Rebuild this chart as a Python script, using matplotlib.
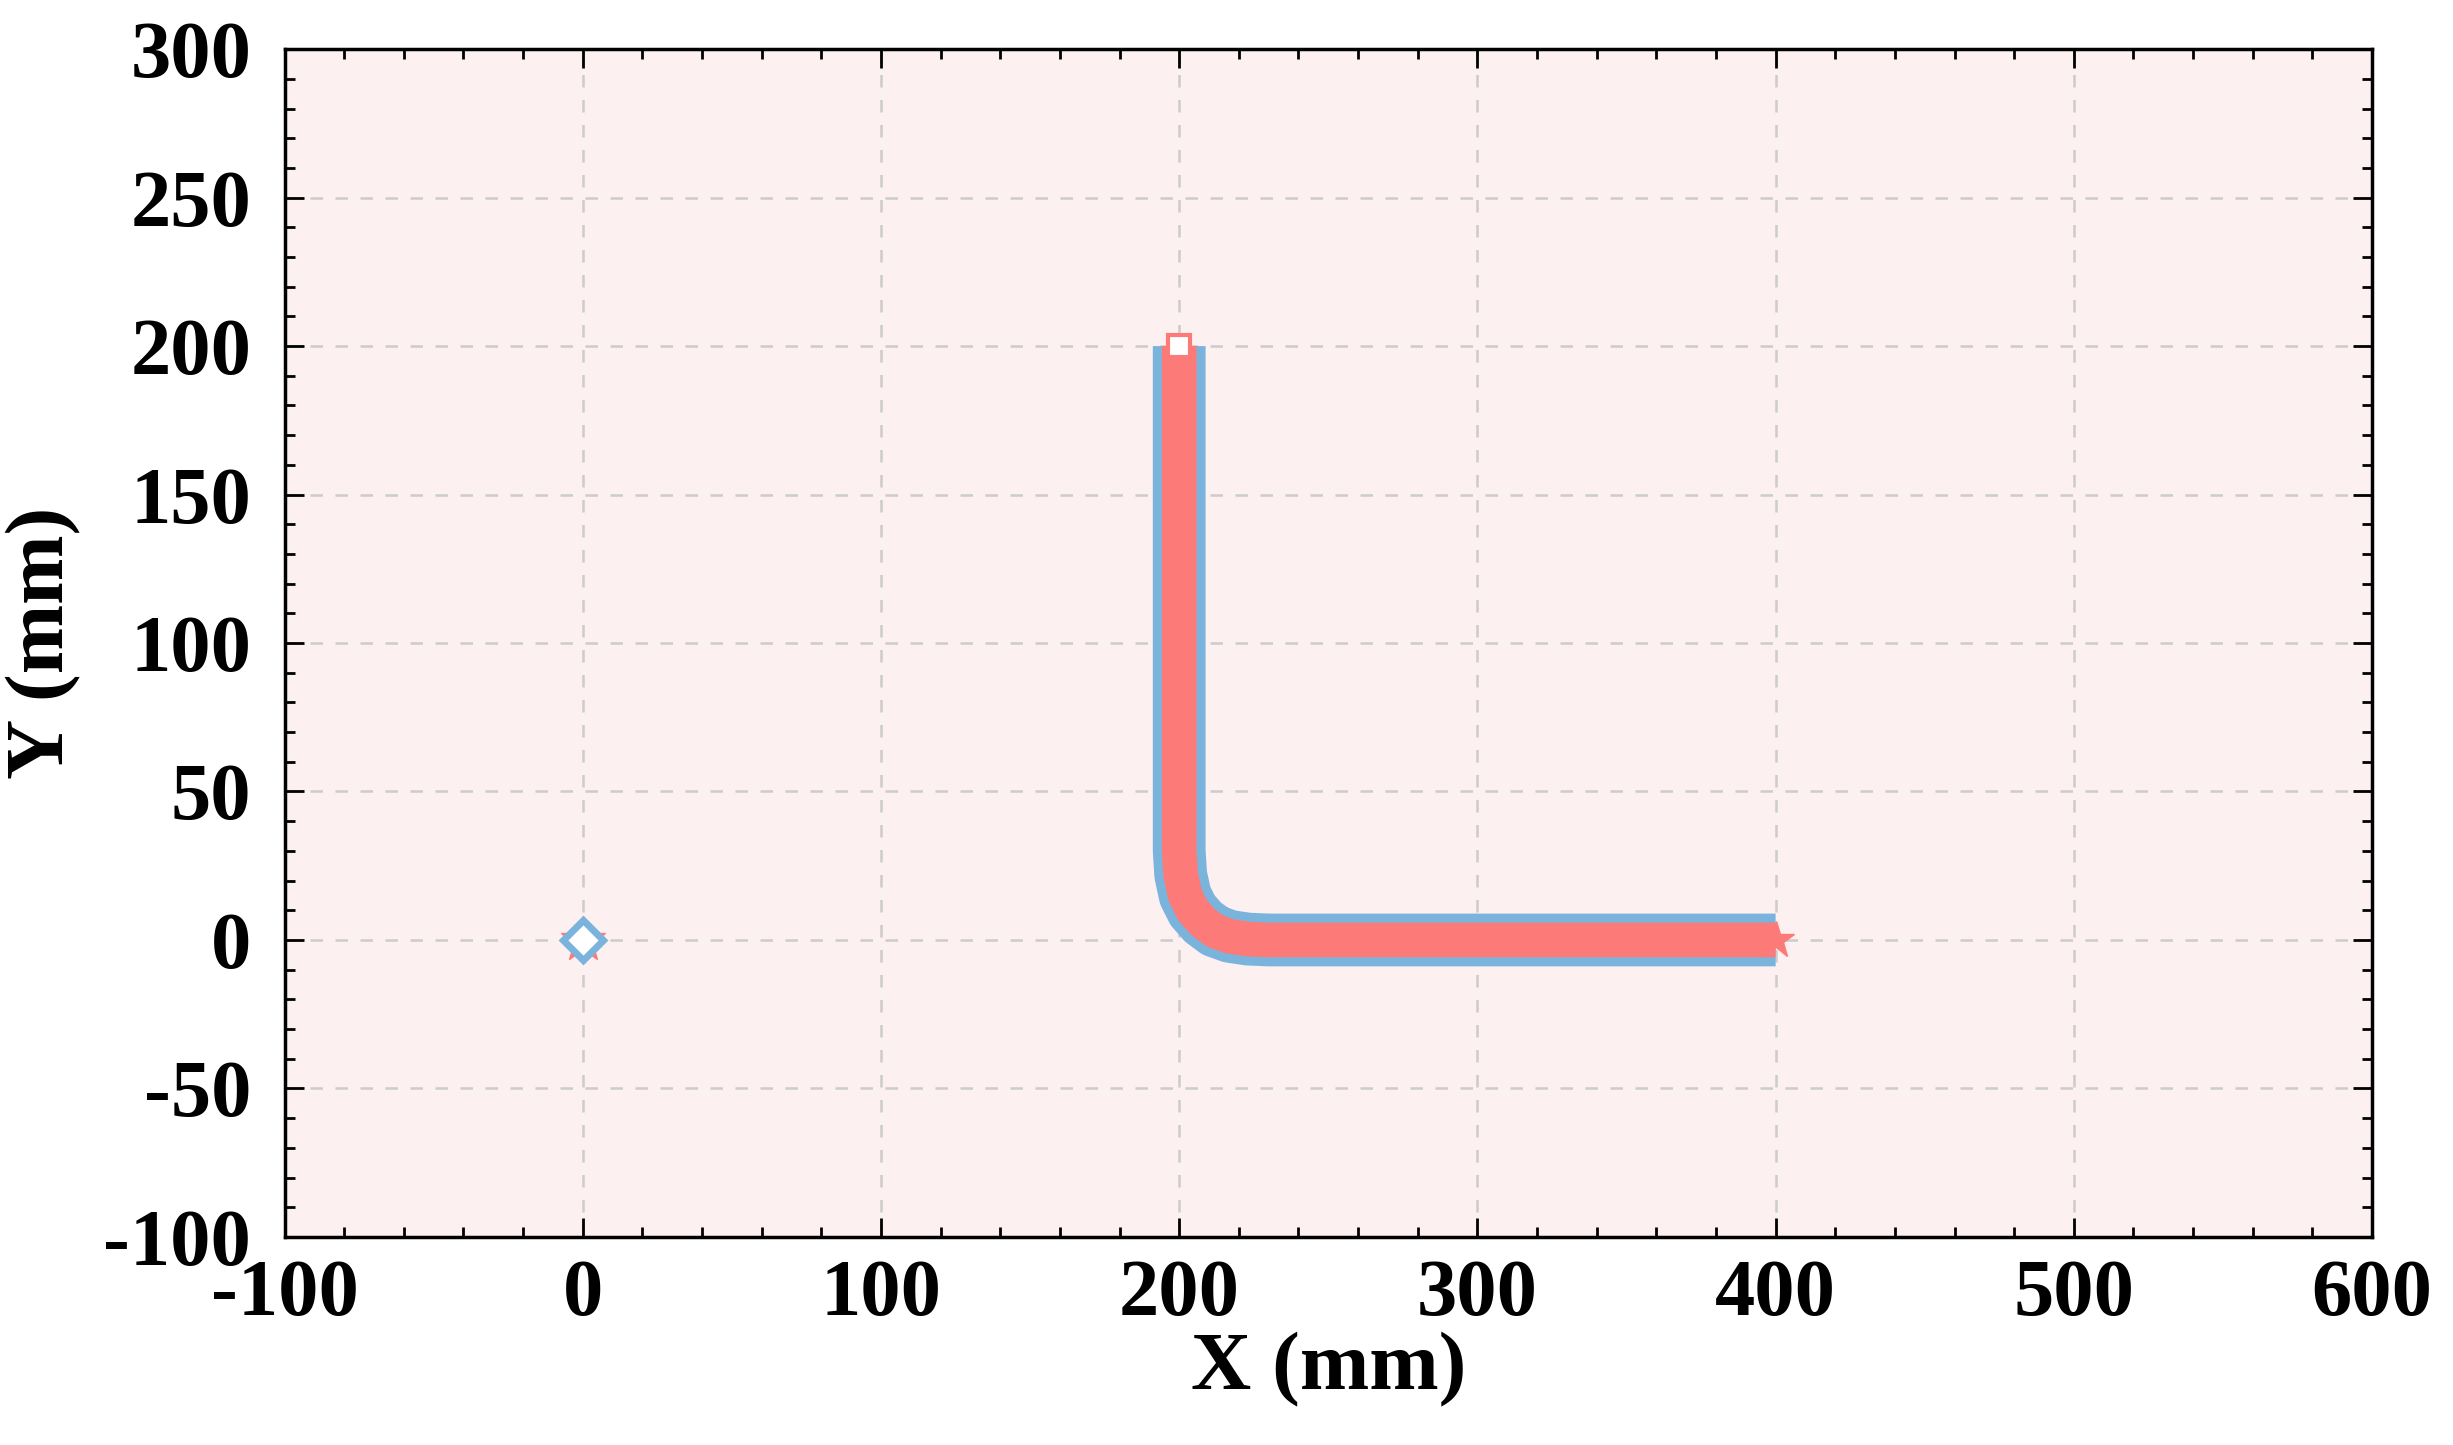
import matplotlib
matplotlib.use("Agg")
import matplotlib.pyplot as plt
from matplotlib.ticker import MultipleLocator

path_x = [200, 200, 200, 200.5, 202, 204.5, 208, 212, 217, 223, 230, 300, 400]
path_y = [200, 100, 30, 22, 15, 10, 6, 3, 1.2, 0.3, 0, 0, 0]
start_pt = (0, 0)
corner_pt = (200, 200)
end_pt = (400, 0)

plt.rcParams['font.family'] = ['Liberation Serif', 'DejaVu Serif']
plt.rcParams['font.weight'] = 'bold'
plt.rcParams['axes.unicode_minus'] = False

fig = plt.figure(figsize=(24.53, 14.45), dpi=100)
ax = fig.add_axes([0.116, 0.144, 0.851, 0.822])
ax.set_facecolor('#fdf0f0')

ax.plot(path_x, path_y, color='#7ab4dc', lw=38, solid_capstyle='butt', solid_joinstyle='round', zorder=3)
ax.plot(path_x, path_y, color='#fc7b78', lw=25, solid_capstyle='butt', solid_joinstyle='round', zorder=4)

ax.plot(*start_pt, marker='*', ms=34, color='#fc7b78', mec='#fc7b78', zorder=5)
ax.plot(*start_pt, marker='D', ms=20, mfc='white', mec='#7ab4dc', mew=5, zorder=6)
ax.plot(*corner_pt, marker='s', ms=16, mfc='white', mec='#fc7b78', mew=3, zorder=6)
ax.plot(*end_pt, marker='*', ms=28, color='#fc7b78', zorder=5)

ax.set_xlim(-100, 600)
ax.set_ylim(-100, 300)
ax.xaxis.set_major_locator(MultipleLocator(100))
ax.xaxis.set_minor_locator(MultipleLocator(20))
ax.yaxis.set_major_locator(MultipleLocator(50))
ax.yaxis.set_minor_locator(MultipleLocator(10))
ax.tick_params(which='both', direction='in', top=True, right=True, labelsize=58, width=2)
ax.tick_params(axis='x', which='major', length=14, pad=16)
ax.tick_params(axis='y', which='major', length=14, pad=24)
ax.tick_params(which='minor', length=7)
for s in ax.spines.values():
    s.set_linewidth(2.5)
ax.grid(True, which='major', ls=(0, (5, 5)), color='#cccccc', lw=1.8, zorder=1)
ax.set_axisbelow(True)
ax.set_xlabel('X (mm)', fontsize=60, fontweight='bold', labelpad=0)
ax.set_ylabel('Y (mm)', fontsize=60, fontweight='bold', labelpad=16)

fig.savefig('out.png', dpi=100)
